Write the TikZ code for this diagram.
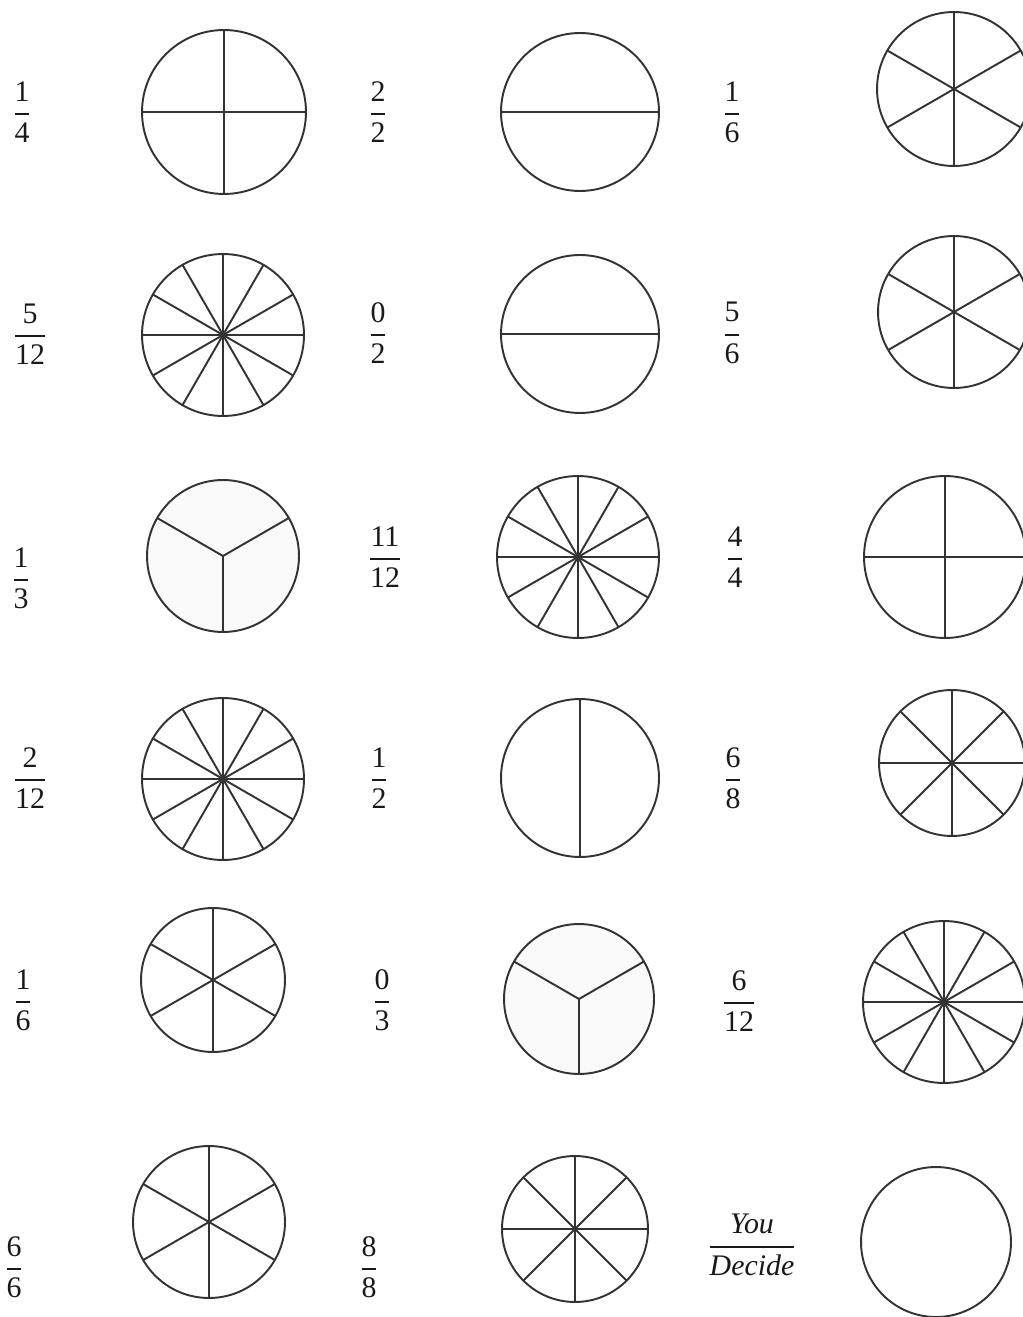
\documentclass[tikz,border=0pt]{standalone}
\usepackage{amsmath}
\usepackage{fontspec}
\setmainfont{Liberation Serif}
\newcommand{\pfrac}[2]{$\genfrac{}{}{0.9pt}{0}{\text{#1}}{\text{#2}}$}

\begin{document}
\begin{tikzpicture}[
  x=0.02cm, y=-0.02cm,
  pie/.style={draw=black!80, circle, line width=1.1pt, inner sep=0pt, outer sep=0pt},
  shaded/.style={pie, fill=black!2},
  spoke/.style={draw=black!80, line width=1.1pt},
  frac/.style={inner sep=0pt, text=black!90, font=\fontsize{17}{20}\selectfont}
]
  \useasboundingbox (0,0) rectangle (1023,1317);

  % Row 1
  \node[frac] (f11) at (22,112) {\pfrac{1}{4}};
  \node[pie, minimum size=3.28cm] (p11) at (224,112) {};
  \draw[spoke] (p11.north) -- (p11.south);
  \draw[spoke] (p11.west) -- (p11.east);

  \node[frac] (f12) at (378,112) {\pfrac{2}{2}};
  \node[pie, minimum size=3.16cm] (p12) at (580,112) {};
  \draw[spoke] (p12.west) -- (p12.east);

  \node[frac] (f13) at (732,112) {\pfrac{1}{6}};
  \node[pie, minimum size=3.08cm] (p13) at (954,89) {};
  \foreach \a in {30,90,...,330}
    \draw[spoke] (p13.center) -- (p13.\a);

  % Row 2
  \node[frac] (f21) at (30,334) {\pfrac{5}{12}};
  \node[pie, minimum size=3.24cm] (p21) at (223,335) {};
  \foreach \a in {0,30,...,330}
    \draw[spoke] (p21.center) -- (p21.\a);

  \node[frac] (f22) at (378,333) {\pfrac{0}{2}};
  \node[pie, minimum size=3.16cm] (p22) at (580,334) {};
  \draw[spoke] (p22.west) -- (p22.east);

  \node[frac] (f23) at (732,333) {\pfrac{5}{6}};
  \node[pie, minimum size=3.04cm] (p23) at (954,312) {};
  \foreach \a in {30,90,...,330}
    \draw[spoke] (p23.center) -- (p23.\a);

  % Row 3
  \node[frac] (f31) at (21,578) {\pfrac{1}{3}};
  \node[shaded, minimum size=3.04cm] (p31) at (223,556) {};
  \foreach \a in {30,150,270}
    \draw[spoke] (p31.center) -- (p31.\a);

  \node[frac] (f32) at (385,557) {\pfrac{11}{12}};
  \node[pie, minimum size=3.24cm] (p32) at (578,557) {};
  \foreach \a in {0,30,...,330}
    \draw[spoke] (p32.center) -- (p32.\a);

  \node[frac] (f33) at (735,557) {\pfrac{4}{4}};
  \node[pie, minimum size=3.24cm] (p33) at (945,557) {};
  \draw[spoke] (p33.north) -- (p33.south);
  \draw[spoke] (p33.west) -- (p33.east);

  % Row 4
  \node[frac] (f41) at (30,778) {\pfrac{2}{12}};
  \node[pie, minimum size=3.24cm] (p41) at (223,779) {};
  \foreach \a in {0,30,...,330}
    \draw[spoke] (p41.center) -- (p41.\a);

  \node[frac] (f42) at (379,778) {\pfrac{1}{2}};
  \node[pie, minimum size=3.16cm] (p42) at (580,778) {};
  \draw[spoke] (p42.north) -- (p42.south);

  \node[frac] (f43) at (733,778) {\pfrac{6}{8}};
  \node[pie, minimum size=2.92cm] (p43) at (952,763) {};
  \foreach \a in {0,45,...,315}
    \draw[spoke] (p43.center) -- (p43.\a);

  % Row 5
  \node[frac] (f51) at (23,1000) {\pfrac{1}{6}};
  \node[pie, minimum size=2.88cm] (p51) at (213,980) {};
  \foreach \a in {30,90,...,330}
    \draw[spoke] (p51.center) -- (p51.\a);

  \node[frac] (f52) at (382,1000) {\pfrac{0}{3}};
  \node[shaded, minimum size=3.0cm] (p52) at (579,999) {};
  \foreach \a in {30,150,270}
    \draw[spoke] (p52.center) -- (p52.\a);

  \node[frac] (f53) at (739,1001) {\pfrac{6}{12}};
  \node[pie, minimum size=3.24cm] (p53) at (944,1002) {};
  \foreach \a in {0,30,...,330}
    \draw[spoke] (p53.center) -- (p53.\a);

  % Row 6
  \node[frac] (f61) at (14,1267) {\pfrac{6}{6}};
  \node[pie, minimum size=3.04cm] (p61) at (209,1222) {};
  \foreach \a in {30,90,...,330}
    \draw[spoke] (p61.center) -- (p61.\a);

  \node[frac] (f62) at (369,1267) {\pfrac{8}{8}};
  \node[pie, minimum size=2.92cm] (p62) at (575,1229) {};
  \foreach \a in {0,45,...,315}
    \draw[spoke] (p62.center) -- (p62.\a);

  \node[frac] (f63) at (752,1245) {\pfrac{\textit{You}}{\textit{Decide}}};
  \node[pie, minimum size=3.0cm] (p63) at (936,1242) {};
\end{tikzpicture}
\end{document}
